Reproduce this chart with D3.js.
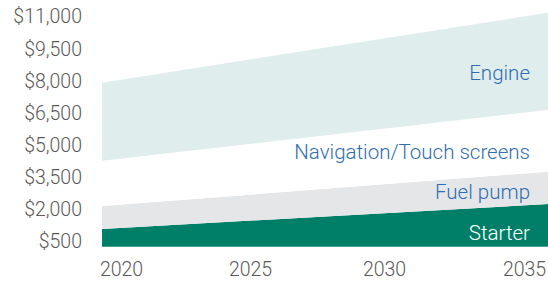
<!DOCTYPE html>
<html><head><meta charset="utf-8">
<script src="https://cdn.jsdelivr.net/npm/d3@7"></script>
<style>
html,body{margin:0;padding:0;background:#fff;}
svg{display:block;font-family:Roboto,"Liberation Sans",Arial,sans-serif;font-weight:300;}
</style></head>
<body><svg id="c" width="548" height="289"></svg>
<script>
const years = [2020, 2035];
const seriesNames = ["Starter", "Fuel pump", "Navigation/Touch screens", "Engine"];
const starter = [826, 1992];
const fuelPump = [1073, 1508];
const navigation = [2114, 2879];
const engine = [3640, 4540];
const baseValue = 267;
const yTicks = [500, 2000, 3500, 5000, 6500, 8000, 9500, 11000];
const xTicks = [2020, 2025, 2030, 2035];

const colors = ["#007f68", "#e5e6e8", "#ffffff", "#dfedec"];
const labelColors = ["#ffffff", "#2f6db3", "#2f6db3", "#2f6db3"];
const fontStack = "Roboto, Liberation Sans, Arial, sans-serif";

const svg = d3.select("#c");
const rows = years.map((yr, i) => ({
  year: yr,
  "Starter": starter[i],
  "Fuel pump": fuelPump[i],
  "Navigation/Touch screens": navigation[i],
  "Engine": engine[i]
}));
const stack = d3.stack().keys(seriesNames)(rows);

const x = d3.scaleLinear().domain([2020, 2035]).range([102, 548]);
const y = d3.scaleLinear().domain([500, 11000]).range([241.7, 16.7]);
const xLabel = d3.scaleLinear().domain([2020, 2025, 2030, 2035]).range([121, 250, 384, 524]);

const area = d3.area()
  .x(d => x(d.data.year))
  .y0(d => y(d[0] + baseValue))
  .y1(d => y(d[1] + baseValue));

svg.append("g").selectAll("path").data(stack).join("path")
  .attr("d", area)
  .attr("fill", (d, i) => colors[i]);

// series labels
const labelY = [240, 199, 158.5, 80];
svg.append("g").selectAll("text").data(seriesNames).join("text")
  .attr("x", 530).attr("y", (d, i) => labelY[i])
  .attr("text-anchor", "end")
  .attr("font-size", 20.5)
  .attr("font-family", fontStack).attr("font-weight", 300)
  .attr("fill", (d, i) => labelColors[i])
  .text(d => d);

// y axis
const yAxis = d3.axisLeft(y).tickValues(yTicks)
  .tickFormat(d => "$" + d3.format(",")(d)).tickSize(0).tickPadding(0);
const gy = svg.append("g").attr("transform", "translate(82,0)").call(yAxis);
gy.select(".domain").remove();
gy.selectAll("text").attr("font-size", 19.5).attr("fill", "#5a5a5a")
  .attr("font-family", fontStack).attr("font-weight", 300);

// x axis
const xAxis = d3.axisBottom(xLabel).tickValues(xTicks).tickFormat(d3.format("d")).tickSize(0).tickPadding(0);
const gx = svg.append("g").attr("transform", "translate(0,262)").call(xAxis);
gx.select(".domain").remove();
gx.selectAll("text").attr("font-size", 19.5).attr("fill", "#5a5a5a")
  .attr("font-family", fontStack).attr("font-weight", 300);
</script></body></html>
